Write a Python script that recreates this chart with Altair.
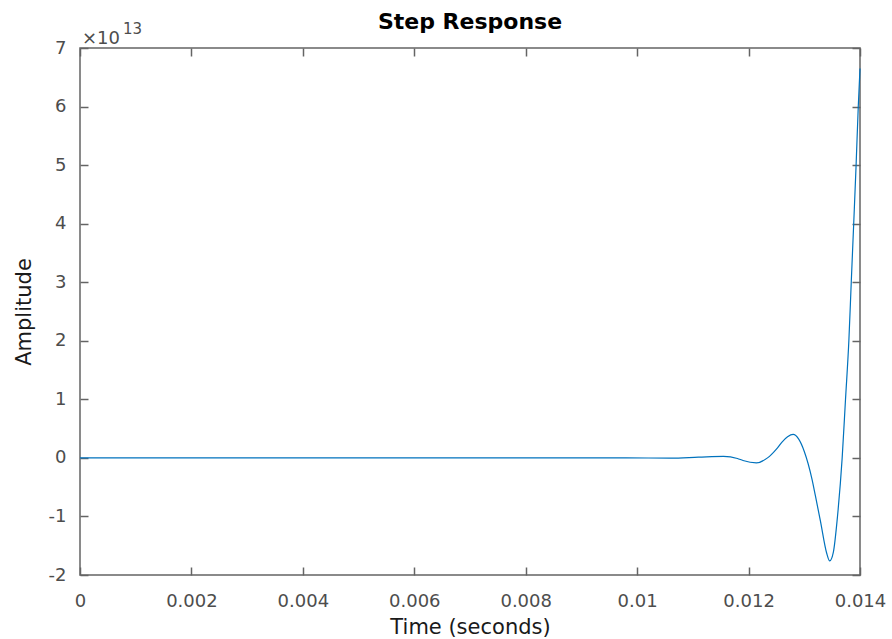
import altair as alt
import pandas as pd

# Step response (amplitude in units of 1e13)
time_s = [0, 0.002, 0.004, 0.006, 0.008, 0.0098, 0.0106, 0.0111, 0.01155, 0.0118,
          0.0119, 0.01214, 0.01234, 0.0125, 0.0126, 0.0127, 0.0128, 0.0129, 0.0130,
          0.01314, 0.0132, 0.01329, 0.0134, 0.013457, 0.01352, 0.013596, 0.01368,
          0.01374, 0.0138, 0.013843, 0.013887, 0.01393, 0.013969, 0.014]
amplitude_e13 = [0, 0, 0, 0, 0, 0.0, -0.003, 0.012, 0.025, -0.01,
                 -0.045, -0.085, 0.0, 0.15, 0.27, 0.36, 0.40, 0.32, 0.11,
                 -0.37, -0.65, -1.08, -1.62, -1.76, -1.62, -1.0, 0.0,
                 1.0, 2.0, 3.0, 4.0, 5.0, 6.0, 6.65]
x_ticks = [0, 0.002, 0.004, 0.006, 0.008, 0.010, 0.012, 0.014]
y_ticks = [-2, -1, 0, 1, 2, 3, 4, 5, 6, 7]
exp_base = ["×10"]
exp_power = ["13"]

df = pd.DataFrame({"t": time_s, "a": amplitude_e13})

FONT = "DejaVu Sans"
LABEL = "#4d4d4d"
FRAME = "#646464"
TICK = 8

xscale = alt.Scale(domain=[0, 0.014], nice=False, zero=False)
yscale = alt.Scale(domain=[-2, 7], nice=False, zero=False)

common = dict(domain=False, grid=False, tickSize=TICK, offset=-TICK,
              tickColor=FRAME, tickWidth=1.5, labelFont=FONT, labelFontSize=18,
              labelColor=LABEL, titleFont=FONT, titleFontSize=21,
              titleFontWeight="normal", titleColor="#1a1a1a")

line = alt.Chart(df).mark_line(color="#0072BD", strokeWidth=1.2, interpolate="monotone").encode(
    x=alt.X("t:Q", scale=xscale,
            axis=alt.Axis(orient="bottom", values=x_ticks, format="~g",
                          title="Time (seconds)", labelPadding=17, titlePadding=6,
                          labelFlush=False, **common)),
    y=alt.Y("a:Q", scale=yscale,
            axis=alt.Axis(orient="left", values=y_ticks, format="d",
                          labelExpr="replace(datum.label, '\u2212', '-')",
                          title="Amplitude", labelPadding=14, titlePadding=14, **common)),
)

frame = alt.Chart(df).mark_line(opacity=0).encode(
    x=alt.X("t:Q", scale=xscale,
            axis=alt.Axis(orient="top", values=x_ticks, labels=False, title="", **common)),
    y=alt.Y("a:Q", scale=yscale,
            axis=alt.Axis(orient="right", values=y_ticks, labels=False, title="", **common)),
)

t1 = alt.Chart(pd.DataFrame({"s": exp_base})).mark_text(
    font=FONT, fontSize=18, color=LABEL, align="left", baseline="alphabetic", dx=2, dy=-4
).encode(x=alt.XDatum(0, axis=None), y=alt.YDatum(7, axis=None), text="s:N")

t2 = alt.Chart(pd.DataFrame({"s": exp_power})).mark_text(
    font=FONT, fontSize=15, color=LABEL, align="left", baseline="alphabetic", dx=43, dy=-14
).encode(x=alt.XDatum(0, axis=None), y=alt.YDatum(7, axis=None), text="s:N")

chart = alt.layer(line, frame, t1, t2).resolve_axis(x="independent", y="independent").properties(
    width=780, height=527,
    padding={"left": 80, "top": 48, "right": 32, "bottom": 64},
    autosize=alt.AutoSizeParams(type="none"),
    title=alt.TitleParams("Step Response", font=FONT, fontSize=22, fontWeight="bold",
                          color="black", offset=-12),
).configure_view(stroke=FRAME, strokeWidth=1.5)

chart.save("out.html", embed_options={"renderer": "svg", "actions": False})
